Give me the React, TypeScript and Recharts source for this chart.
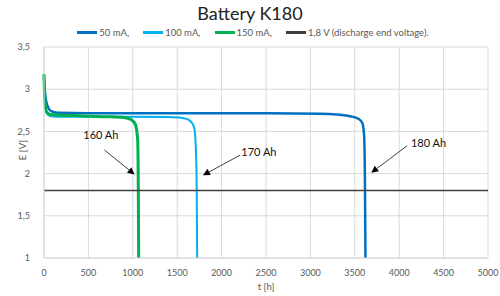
import { LineChart, Line, XAxis, YAxis, CartesianGrid, ReferenceLine, ReferenceDot } from 'recharts';

// discharge curves (t in hours, E in volts)
const t50 = [0, 15, 40, 80, 150, 500, 1500, 2500, 3100, 3300, 3450, 3540, 3585, 3605, 3615, 3620];
const e50 = [3.15, 2.92, 2.8, 2.74, 2.72, 2.715, 2.715, 2.715, 2.71, 2.7, 2.68, 2.65, 2.6, 2.45, 1.8, 1.0];

const t100 = [0, 15, 40, 80, 150, 500, 1000, 1400, 1560, 1640, 1690, 1710, 1720, 1725];
const e100 = [3.02, 2.8, 2.7, 2.68, 2.675, 2.675, 2.675, 2.67, 2.66, 2.63, 2.55, 2.3, 1.8, 1.0];

const t150 = [0, 10, 30, 70, 150, 400, 700, 900, 980, 1030, 1055, 1062, 1066];
const e150 = [3.18, 2.85, 2.73, 2.7, 2.695, 2.685, 2.675, 2.665, 2.64, 2.58, 2.4, 1.8, 1.0];

const tEnd = [0, 5000];
const eEnd = [1.8, 1.8];

const xTicks = [0, 500, 1000, 1500, 2000, 2500, 3000, 3500, 4000, 4500, 5000];
const yTicks = [1, 1.5, 2, 2.5, 3, 3.5];

// capacity annotations: label position and arrow from/to
const notes = [
  { text: '160 Ah', tx: 640, ty: 2.46, x1: 680, y1: 2.28, x2: 1020, y2: 1.99 },
  { text: '170 Ah', tx: 2420, ty: 2.25, x1: 2210, y1: 2.22, x2: 1790, y2: 1.98 },
  { text: '180 Ah', tx: 4330, ty: 2.36, x1: 4090, y1: 2.33, x2: 3685, y2: 2.01 },
];

const series = [
  { name: '50 mA,', color: '#0070C0', width: 2.5, data: t50.map((t, i) => ({ t, E: e50[i] })) },
  { name: '100 mA,', color: '#00B0F0', width: 2, data: t100.map((t, i) => ({ t, E: e100[i] })) },
  { name: '150 mA,', color: '#00B050', width: 3, data: t150.map((t, i) => ({ t, E: e150[i] })) },
  { name: '1,8 V (discharge end voltage).', color: '#404040', width: 1.5, data: tEnd.map((t, i) => ({ t, E: eEnd[i] })) },
];

const font = 'Lato, "Open Sans", sans-serif';
const comma = (v: number) => String(v).replace('.', ',');

const Arrow = (props: any) => {
  const { x1, y1, x2, y2 } = props;
  if (x1 == null) return null;
  const a = Math.atan2(y2 - y1, x2 - x1);
  const L = 7, W = 3.5;
  const bx = x2 - L * Math.cos(a), by = y2 - L * Math.sin(a);
  const p = `${x2},${y2} ${bx + W * Math.sin(a)},${by - W * Math.cos(a)} ${bx - W * Math.sin(a)},${by + W * Math.cos(a)}`;
  return (
    <g>
      <line x1={x1} y1={y1} x2={bx} y2={by} stroke="#404040" strokeWidth={1} />
      <polygon points={p} fill="#000" />
    </g>
  );
};

const LegendBox = () => (
  <div style={{ position: 'absolute', left: 0, top: 27, width: 500, display: 'flex', justifyContent: 'center', alignItems: 'center', fontFamily: font, fontSize: 9.5, color: '#595959', paddingLeft: 6, boxSizing: 'border-box', zIndex: 1 }}>
    {series.map((s) => (
      <div key={s.name} style={{ display: 'flex', alignItems: 'center', margin: '0 7px' }}>
        <span style={{ display: 'inline-block', width: 20, height: 3, background: s.color, marginRight: 2 }} />
        <span>{s.name}</span>
      </div>
    ))}
  </div>
);

export default function App() {
  return (
    <div style={{ position: 'absolute', left: 0, top: 0, width: 500, height: 296, background: '#fff', fontFamily: font }}>
      <div style={{ position: 'absolute', left: 0, top: 2, width: 500, textAlign: 'center', fontSize: 18, color: '#222' }}>Battery K180</div>
      <LegendBox />
      <div style={{ position: 'absolute', left: 10, top: 150, transform: 'translate(-50%,-50%) rotate(-90deg)', fontSize: 9.5, color: '#595959', whiteSpace: 'nowrap', marginLeft: 12 }}>E [V]</div>
      <div style={{ position: 'absolute', left: 0, top: 281, width: 532, textAlign: 'center', fontSize: 9.5, color: '#595959' }}>t [h]</div>
      <LineChart width={500} height={296} margin={{ top: 47, right: 12, bottom: 18, left: 14 }}>
        <CartesianGrid stroke="#d9d9d9" />
        <XAxis
          type="number"
          dataKey="t"
          domain={[0, 5000]}
          ticks={xTicks}
          height={20}
          tickLine={false}
          axisLine={{ stroke: '#d9d9d9' }}
          tick={{ fontSize: 9, fill: '#595959', fontFamily: font }}
          tickMargin={6}
          allowDuplicatedCategory={false}
        />
        <YAxis
          type="number"
          domain={[1, 3.5]}
          ticks={yTicks}
          width={30}
          tickLine={false}
          axisLine={{ stroke: '#d9d9d9' }}
          tick={{ fontSize: 9, fill: '#595959', fontFamily: font }}
          tickFormatter={comma}
          tickMargin={8}
        />
        {series.map((s) => (
          <Line
            key={s.name}
            name={s.name}
            data={s.data}
            dataKey="E"
            type="monotone"
            stroke={s.color}
            strokeWidth={s.width}
            dot={false}
            isAnimationActive={false}
          />
        ))}
        {notes.map((n) => (
          <ReferenceLine
            key={n.text + 'a'}
            segment={[{ x: n.x1, y: n.y1 }, { x: n.x2, y: n.y2 }]}
            shape={<Arrow />}
            ifOverflow="visible"
          />
        ))}
        {notes.map((n) => (
          <ReferenceDot
            key={n.text}
            x={n.tx}
            y={n.ty}
            r={0}
            ifOverflow="visible"
            label={{ value: n.text, position: 'center', fontSize: 11, fill: '#111', fontFamily: font }}
          />
        ))}
      </LineChart>
    </div>
  );
}
